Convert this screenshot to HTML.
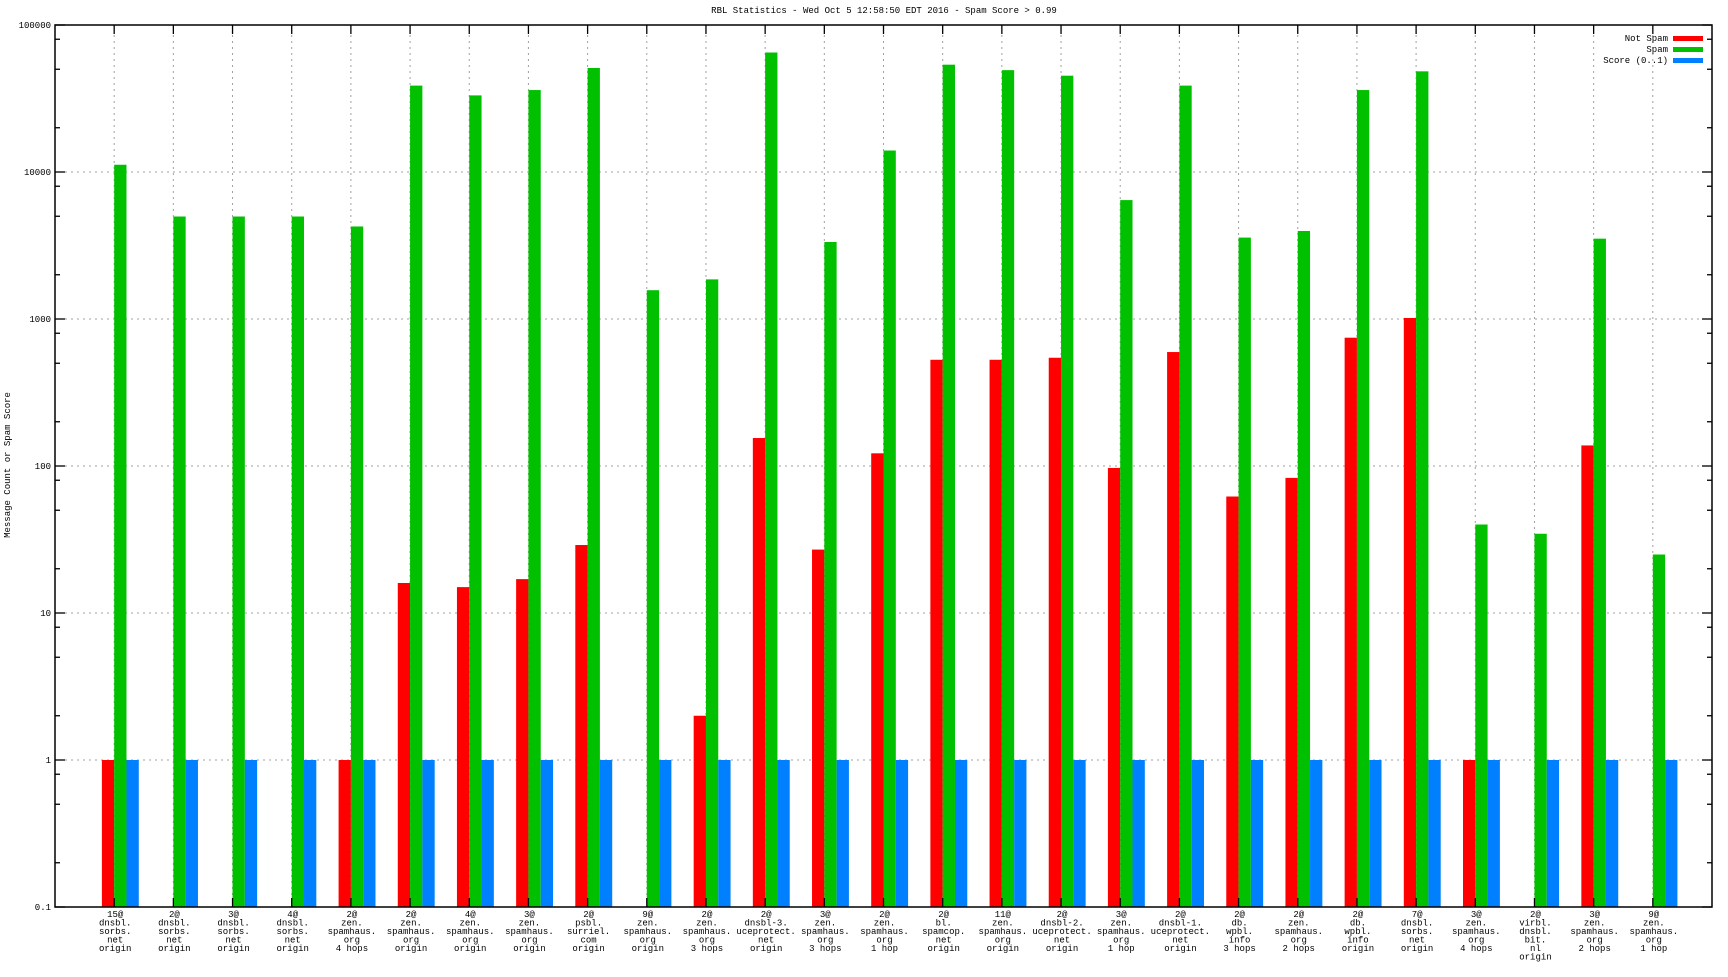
<!DOCTYPE html>
<html><head><meta charset="utf-8"><style>
html,body{margin:0;padding:0;background:#fff;}
svg text{font-family:"Liberation Mono","DejaVu Sans Mono",monospace;font-size:9px;fill:#000;}
</style></head><body>
<svg id="chart" width="1728" height="972" xmlns="http://www.w3.org/2000/svg">
<text x="884" y="13" text-anchor="middle">RBL Statistics - Wed Oct  5 12:58:50 EDT 2016 - Spam Score &gt; 0.99</text>
<text transform="translate(10,465) rotate(-90)" text-anchor="middle">Message Count or Spam Score</text>
<g id="grid"></g><g id="bars"></g><g id="axes"></g><g id="labels"></g>
<g>
<text x="1668" y="41" text-anchor="end">Not Spam</text><rect x="1673" y="36" width="30" height="5" fill="#ff0000"/>
<text x="1668" y="52" text-anchor="end">Spam</text><rect x="1673" y="47" width="30" height="5" fill="#00c000"/>
<text x="1668" y="63" text-anchor="end">Score (0..1)</text><rect x="1673" y="58" width="30" height="5" fill="#0080ff"/>
</g>
</svg>
<script>
const categories=[
["15@","dnsbl.","sorbs.","net","origin"],["2@","dnsbl.","sorbs.","net","origin"],["3@","dnsbl.","sorbs.","net","origin"],["4@","dnsbl.","sorbs.","net","origin"],
["2@","zen.","spamhaus.","org","4 hops"],["2@","zen.","spamhaus.","org","origin"],["4@","zen.","spamhaus.","org","origin"],["3@","zen.","spamhaus.","org","origin"],
["2@","psbl.","surriel.","com","origin"],["9@","zen.","spamhaus.","org","origin"],["2@","zen.","spamhaus.","org","3 hops"],["2@","dnsbl-3.","uceprotect.","net","origin"],
["3@","zen.","spamhaus.","org","3 hops"],["2@","zen.","spamhaus.","org","1 hop"],["2@","bl.","spamcop.","net","origin"],["11@","zen.","spamhaus.","org","origin"],
["2@","dnsbl-2.","uceprotect.","net","origin"],["3@","zen.","spamhaus.","org","1 hop"],["2@","dnsbl-1.","uceprotect.","net","origin"],["2@","db.","wpbl.","info","3 hops"],
["2@","zen.","spamhaus.","org","2 hops"],["2@","db.","wpbl.","info","origin"],["7@","dnsbl.","sorbs.","net","origin"],["3@","zen.","spamhaus.","org","4 hops"],
["2@","virbl.","dnsbl.","bit.","nl","origin"],["3@","zen.","spamhaus.","org","2 hops"],["9@","zen.","spamhaus.","org","1 hop"]];
const notSpam=[1,0,0,0,1,16,15,17,29,0,2,155,27,122,528,528,545,97,596,62,83,746,1016,1,0,138,0];
const spam=[11200,4980,4980,4980,4260,38700,33200,36100,51000,1570,1860,65000,3340,14000,53700,49300,45200,6440,38700,3580,3970,36100,48400,40,34.6,3520,25];
const score=[1,1,1,1,1,1,1,1,1,1,1,1,1,1,1,1,1,1,1,1,1,1,1,1,1,1,1];
const yTicks=["0.1","1","10","100","1000","10000","100000"];
const NS="http://www.w3.org/2000/svg";
const L=55,R=1712,T=25,B=907;
const step=(R-L)/28,bw=12.3;
function xPos(i){return L+(i+1)*step;}
function yPos(v){return B-(Math.log10(v)+1)*(B-T)/6;}
function mk(tag,attrs,parent){const e=document.createElementNS(NS,tag);for(const k in attrs)e.setAttribute(k,attrs[k]);document.getElementById(parent).appendChild(e);return e;}
// grid
yTicks.forEach((t,j)=>{const y=yPos(parseFloat(t));
 if(j>0&&j<6){const g=mk('line',{x1:L+10,x2:R-10,y1:y,y2:y,stroke:'#a0a0a0','stroke-dasharray':'2,4'},'grid');
 
 }
 const tx=mk('text',{x:L-4,y:y+3,'text-anchor':'end'},'axes');tx.textContent=t;
 
 
 mk('line',{x1:L,x2:L+10,y1:y,y2:y,stroke:'#000','stroke-width':1.3},'axes');
 mk('line',{x1:R,x2:R-10,y1:y,y2:y,stroke:'#000','stroke-width':1.3},'axes');
 if(j<6){[2,5,8].forEach(m=>{const ym=yPos(parseFloat(t)*m);
  mk('line',{x1:L,x2:L+5,y1:ym,y2:ym,stroke:'#000','stroke-width':1.3},'axes');
  mk('line',{x1:R,x2:R-5,y1:ym,y2:ym,stroke:'#000','stroke-width':1.3},'axes');});}
});
categories.forEach((c,i)=>{const x=xPos(i);
 const g=mk('line',{x1:x,x2:x,y1:T+10,y2:B-10,stroke:'#a0a0a0','stroke-dasharray':'2,4'},'grid');
 
 
 mk('line',{x1:x,x2:x,y1:T,y2:T+9,stroke:'#000','stroke-width':1.3},'axes');
 mk('line',{x1:x,x2:x,y1:B,y2:B-9,stroke:'#000','stroke-width':1.3},'axes');
 c.forEach((s,k)=>{const t=mk('text',{x:x+1,y:917+k*8.5,'text-anchor':'middle'},'labels');t.textContent=s;
  
  });
 const series=[[notSpam,'#ff0000',-bw,'bar-not-spam'],[spam,'#00c000',0,'bar-spam'],[score,'#0080ff',bw,'bar-score']];
 series.forEach(([arr,col,off,nm])=>{const v=arr[i];if(!v||v<=0.1)return;
  const y=yPos(v);
  const r=mk('rect',{x:x+off,y:y,width:bw,height:B-y,fill:col},'bars');
  
  });
});
mk('rect',{x:L,y:T,width:R-L,height:B-T,fill:'none',stroke:'#000','stroke-width':1.5},'axes');
</script>
</body></html>
